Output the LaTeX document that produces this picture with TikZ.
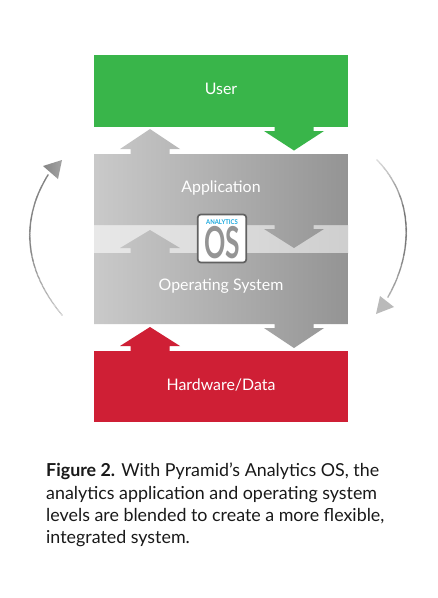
\documentclass[tikz,border=0pt]{standalone}
\usepackage{fontspec}
\setmainfont{Lato}
\usetikzlibrary{calc}
\definecolor{usergreen}{HTML}{39B54A}
\definecolor{hwred}{HTML}{CF1F35}
\definecolor{osblue}{HTML}{1BA9DE}
% block arrow path fragments: x of axis, tip y, base y of head, shaft end y
\newcommand{\blockarrow}[4]{(#1-19.5,#4) -- (#1-19.5,#3) -- (#1-30,#3) -- (#1,#2) -- (#1+30,#3) -- (#1+19.5,#3) -- (#1+19.5,#4) -- cycle}
\newcommand{\blockarrowrev}[4]{(#1+19.5,#4) -- (#1+19.5,#3) -- (#1+30,#3) -- (#1,#2) -- (#1-30,#3) -- (#1-19.5,#3) -- (#1-19.5,#4) -- cycle}
\tikzset{
  layer/.style={minimum width=254pt,inner sep=0pt,outer sep=0pt,text=white,font=\fontsize{15.9}{18}\selectfont},
}
\begin{document}
\begin{tikzpicture}[x=1pt,y=-1pt]
\useasboundingbox (0,0) rectangle (438,598);
\fill[white] (0,0) rectangle (438,598);
% grey middle band
\shade[left color=black!9,right color=black!19] (94,225) rectangle (348,253);
% grey blocks and their arrows share one gradient
\begin{scope}
  \clip (94,154) rectangle (348,225)
        (94,253) rectangle (348,324)
        \blockarrowrev{150}{129}{149}{155}
        \blockarrowrev{150}{230}{248}{254}
        \blockarrow{294}{248}{229}{224}
        \blockarrow{294}{348}{328}{323};
  \shade[left color=black!21,right color=black!42] (94,120) rectangle (348,360);
\end{scope}
% green and red
\fill[usergreen] \blockarrow{294}{150.5}{131}{126};
\fill[hwred] \blockarrow{150}{327}{346}{352};
\node[layer,fill=usergreen,minimum height=72pt] (user) at (221,91) {};
\node[layer,fill=hwred,minimum height=71pt] (hw) at (221,386.5) {};
\node[layer] (userlabel) at (221,89) {User};
\node[layer] (hwlabel) at (221,385) {Hardware/Data};
\node[layer,minimum height=71pt] (app) at (221,189.5) {};
\node[layer,minimum height=71pt] (ossys) at (221,288.5) {};
\node[layer] (applabel) at (221,188) {Application};
\node[layer] (oslabel) at (221,286.5) {Operating System};
% logo
\node[draw=black!62,line width=1.7pt,fill=white,rounded corners=3pt,minimum width=48.5pt,minimum height=48pt,inner sep=0pt] (logo) at (222,238.5) {};
\node[inner sep=0pt,text=osblue] (logotop) at (222,222) {\scalebox{0.9}[1]{\bfseries\fontsize{6.6}{7}\selectfont ANALYTICS}};
\node[inner sep=0pt,text=black!42] (logoos) at (222,243) {\scalebox{0.6}[1]{\bfseries\fontsize{44}{44}\selectfont OS}};
% orbit arrows
\coordinate (la) at (62,315);
\coordinate (lb) at (18,262);
\coordinate (lc) at (25,212);
\coordinate (ld) at (48,175);
\foreach \t in {0,0.008,...,1.001}{
  \pgfmathsetmacro{\sh}{22+28*min(1,\t*2.2)}
  \path (la) .. controls (lb) and (lc) .. (ld) coordinate[pos=\t] (pl);
  \fill[black!\sh] (pl) circle (0.9pt);
}
\shade[left color=black!48,right color=black!36] (62,160) -- (43,166) -- (58,179) -- cycle;
\coordinate (ra) at (377,160);
\coordinate (rb) at (416,200);
\coordinate (rc) at (412,255);
\coordinate (rd) at (388,297);
\foreach \t in {0,0.008,...,1.001}{
  \pgfmathsetmacro{\sh}{15+40*min(1,\t*2.5)-28*max(0,\t*2-1.2)}
  \path (ra) .. controls (rb) and (rc) .. (rd) coordinate[pos=\t] (pr);
  \fill[black!\sh] (pr) circle (0.9pt);
}
\fill[black!27] (376,314) -- (380,296) -- (394,307) -- cycle;
% caption
\node[anchor=north west,inner sep=0pt,text=black!90,align=left,font=\fontsize{17.85}{22.3}\selectfont] (cap) at (46,463)
 {\textbf{Figure 2.} With Pyramid’s Analytics OS, the\\analytics application and operating system\\levels are blended to create a more flexible,\\integrated system.};
\end{tikzpicture}
\end{document}
